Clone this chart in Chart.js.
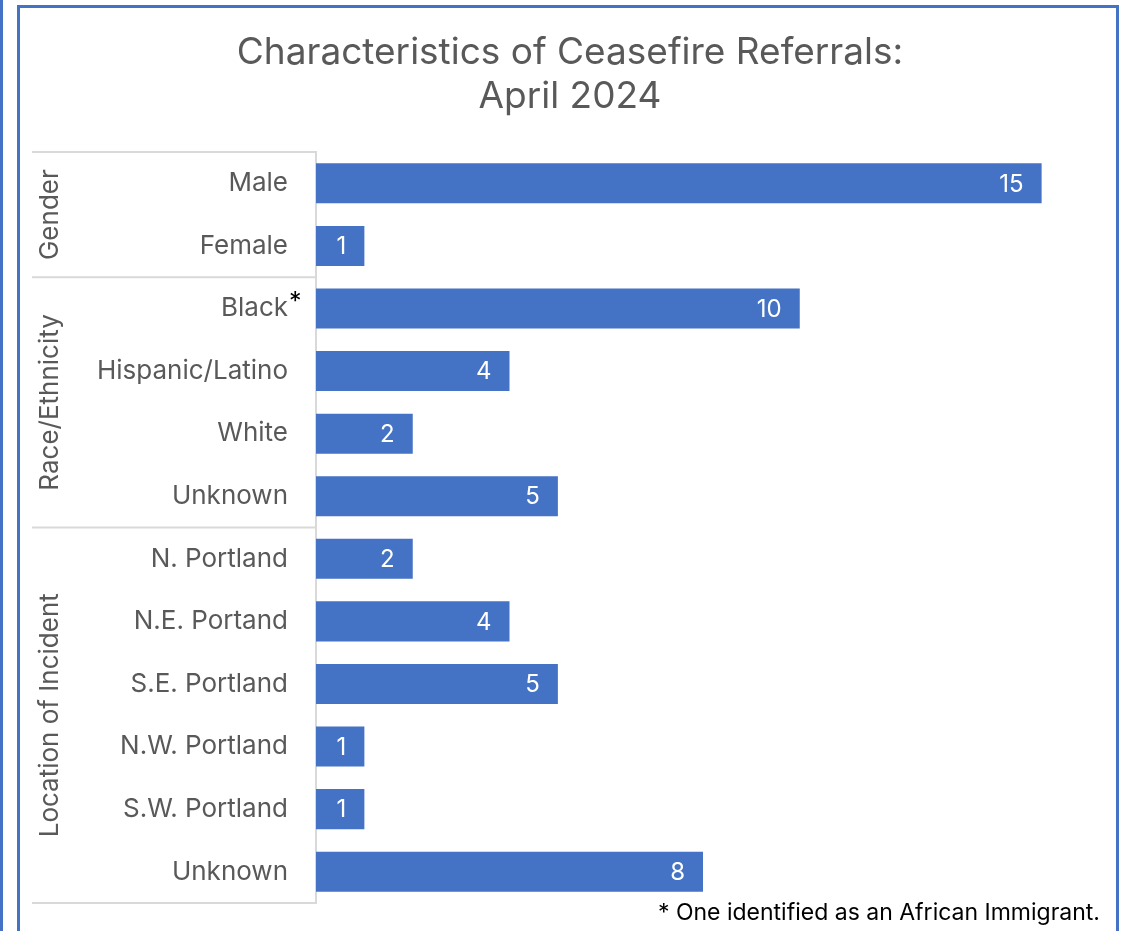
<!DOCTYPE html>
<html>
<head>
<meta charset="utf-8">
<title>Characteristics of Ceasefire Referrals: April 2024</title>
<script src="https://cdn.jsdelivr.net/npm/chart.js@4.4.1/dist/chart.umd.min.js"></script>
<style>
  html, body { margin: 0; padding: 0; background: #fff; }
  #wrap { position: relative; width: 1130px; height: 931px; }
</style>
</head>
<body>
<div id="wrap"><canvas id="chart" width="1130" height="931"></canvas></div>
<script>
// Chart data
const categories = ['Male', 'Female', 'Black', 'Hispanic/Latino', 'White', 'Unknown',
  'N. Portland', 'N.E. Portand', 'S.E. Portland', 'N.W. Portland', 'S.W. Portland', 'Unknown'];
const referrals = [15, 1, 10, 4, 2, 5, 2, 4, 5, 1, 1, 8];
const groups = ['Gender', 'Race/Ethnicity', 'Location of Incident'];
const groupSizes = [2, 4, 6];
const footnote = '* One identified as an African Immigrant.';

const FONT = 'Inter, "DejaVu Sans", sans-serif';
const BLUE = '#4472C4';
const GRAY = '#595959';
const LINE = '#d9d9d9';

// Draws the frame, group labels, separators, value labels and footnote
const decorPlugin = {
  id: 'decor',
  beforeDraw(chart) {
    const ctx = chart.ctx;
    ctx.save();
    ctx.fillStyle = '#fff';
    ctx.fillRect(0, 0, chart.width, chart.height);
    ctx.strokeStyle = BLUE;
    ctx.lineWidth = 3;
    ctx.beginPath();
    ctx.moveTo(1.5, 0);
    ctx.lineTo(1.5, chart.height);
    ctx.moveTo(18.5, chart.height + 5);
    ctx.lineTo(18.5, 6.5);
    ctx.lineTo(1117.5, 6.5);
    ctx.lineTo(1117.5, chart.height + 5);
    ctx.stroke();
    ctx.restore();
  },
  afterDraw(chart) {
    const ctx = chart.ctx;
    const y = chart.scales.y;
    const axisX = chart.chartArea.left - 1;
    ctx.save();

    // group separators
    ctx.strokeStyle = LINE;
    ctx.lineWidth = 2;
    let start = 0;
    const bounds = [y.getPixelForValue(-0.5)];
    groupSizes.forEach(n => {
      start += n;
      bounds.push(y.getPixelForValue(start - 0.5));
    });
    ctx.beginPath();
    bounds.forEach(b => {
      ctx.moveTo(32, b);
      ctx.lineTo(axisX, b);
    });
    ctx.stroke();

    // rotated group labels
    ctx.fillStyle = GRAY;
    ctx.font = '26px ' + FONT;
    ctx.textAlign = 'center';
    ctx.textBaseline = 'middle';
    groups.forEach((g, i) => {
      const cy = (bounds[i] + bounds[i + 1]) / 2;
      ctx.save();
      ctx.translate(50, cy);
      ctx.rotate(-Math.PI / 2);
      ctx.fillText(g, 0, 0);
      ctx.restore();
    });

    // asterisk on Black
    const blackY = y.getPixelForValue(2);
    ctx.fillStyle = '#000';
    ctx.font = '25px ' + FONT;
    ctx.textAlign = 'left';
    ctx.fillText('*', axisX - 26, blackY - 6);

    // value labels inside bars
    ctx.fillStyle = '#fff';
    ctx.font = '24px ' + FONT;
    ctx.textAlign = 'right';
    const meta = chart.getDatasetMeta(0);
    meta.data.forEach((bar, i) => {
      ctx.fillText(String(referrals[i]), bar.x - 18, bar.y + 1);
    });

    // footnote
    ctx.fillStyle = '#000';
    ctx.font = '23px ' + FONT;
    ctx.textAlign = 'right';
    ctx.textBaseline = 'alphabetic';
    ctx.fillText(footnote, 1100, 920);
    ctx.restore();
  }
};

new Chart(document.getElementById('chart'), {
  type: 'bar',
  data: {
    labels: categories,
    datasets: [{
      data: referrals,
      backgroundColor: BLUE,
      borderWidth: 0,
      barPercentage: 0.64,
      categoryPercentage: 1
    }]
  },
  options: {
    indexAxis: 'y',
    responsive: false,
    animation: false,
    layout: { padding: { top: 31, left: 50, right: 40, bottom: 28 } },
    scales: {
      x: {
        display: false,
        min: 0,
        max: 16
      },
      y: {
        grid: { display: false, drawTicks: false },
        border: { display: true, color: LINE, width: 2 },
        ticks: {
          color: GRAY,
          padding: 28,
          font: { family: FONT, size: 26 }
        },
        afterFit(scale) {
          scale.width = 266;
          scale.paddingTop = 0;
          scale.paddingBottom = 0;
        }
      }
    },
    plugins: {
      legend: { display: false },
      tooltip: { enabled: false },
      title: {
        display: true,
        text: ['Characteristics of Ceasefire Referrals:', 'April 2024'],
        color: GRAY,
        font: { family: FONT, size: 37, weight: 'normal', lineHeight: 1.19 },
        padding: { top: 0, bottom: 33 }
      }
    }
  },
  plugins: [decorPlugin]
});
</script>
</body>
</html>
